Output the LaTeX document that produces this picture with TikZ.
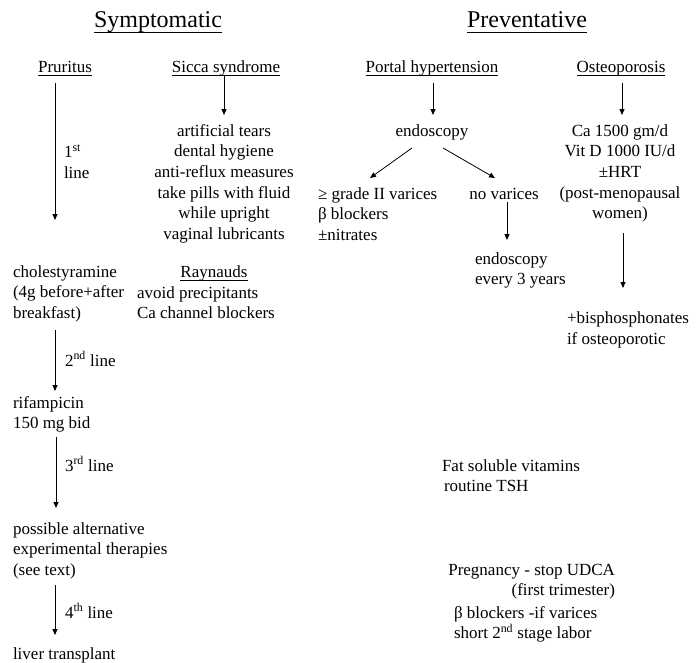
\documentclass[tikz,border=0pt]{standalone}
\usepackage{fontspec}
\setmainfont{Liberation Serif}
\usetikzlibrary{arrows.meta}
\tikzset{
  txt/.style={font=\fontsize{17}{20.7}\selectfont, inner sep=0pt, outer sep=0pt},
  head/.style={font=\fontsize{24}{28}\selectfont, inner sep=0pt, outer sep=0pt},
  arr/.style={-{Triangle[width=5pt,length=6pt]}, line width=0.8pt},
  ul/.style={line width=0.6pt},
}
\begin{document}
\begin{tikzpicture}[x=1pt,y=-1pt]
\useasboundingbox (0,0) rectangle (699,662);
% headings
\node[head, anchor=base] (symp) at (158,27) {Symptomatic};
\node[head, anchor=base] (prev) at (527,27) {Preventative};
\draw[ul] ([yshift=-5pt]symp.base west) -- ([yshift=-5pt]symp.base east);
\draw[ul] ([yshift=-5pt]prev.base west) -- ([yshift=-5pt]prev.base east);
% sub headings
\node[txt, anchor=base] (pru) at (65,72) {Pruritus};
\node[txt, anchor=base] (sic) at (226,72) {Sicca syndrome};
\node[txt, anchor=base] (por) at (432,72) {Portal hypertension};
\node[txt, anchor=base] (ost) at (621,72) {Osteoporosis};
\foreach \n in {pru,sic,por,ost}{
  \draw[ul] ([yshift=-3pt]\n.base west) -- ([yshift=-3pt]\n.base east);
}
% symptomatic column (multi-line nodes: base = last line's baseline)
\node[txt, anchor=base, align=center] (sicl) at (224,239.5) {artificial tears\\dental hygiene\\anti-reflux measures\\take pills with fluid\\while upright\\vaginal lubricants};
\node[txt, anchor=base west, align=left] (chol) at (13,318.4) {cholestyramine\\(4g before+after\\breakfast)};
\node[txt, anchor=base] (ray) at (214,277) {Raynauds};
\draw[ul] ([yshift=-3pt]ray.base west) -- ([yshift=-3pt]ray.base east);
\node[txt, anchor=base west, align=left] (rayl) at (137,318.7) {avoid precipitants\\Ca channel blockers};
\node[txt, anchor=base west, align=left] (rif) at (13,428.7) {rifampicin\\150 mg bid};
\node[txt, anchor=base west, align=left] (poss) at (13,575.4) {possible alternative\\experimental therapies\\(see text)};
\node[txt, anchor=base west] (liv) at (13,659) {liver transplant};
% line labels
\node[txt, anchor=base west, align=left] (l1) at (64,178) {1\textsuperscript{st}\\line};
\node[txt, anchor=base west] (l2) at (65,366) {2\textsuperscript{nd} line};
\node[txt, anchor=base west] (l3) at (65,471) {3\textsuperscript{rd} line};
\node[txt, anchor=base west] (l4) at (65,618) {4\textsuperscript{th} line};
% preventative column
\node[txt, anchor=base] (endo) at (432,136) {endoscopy};
\node[txt, anchor=base, align=center] (ca) at (620,218.8) {Ca 1500 gm/d\\Vit D 1000 IU/d\\±HRT\\(post-menopausal\\women)};
\node[txt, anchor=base west, align=left] (var) at (318,240.4) {≥ grade II varices\\β blockers\\±nitrates};
\node[txt, anchor=base] (nov) at (504,199) {no varices};
\node[txt, anchor=base west, align=left] (end3) at (475,284.7) {endoscopy\\every 3 years};
\node[txt, anchor=base west, align=left] (bis) at (567,344) {+bisphosphonates\\if osteoporotic};
\node[txt, anchor=base west, align=left] (fat) at (442,491.7) {Fat soluble vitamins\\\hspace{2pt}routine TSH};
\node[txt, anchor=base east, align=right] (preg) at (615,595.7) {Pregnancy - stop UDCA\\(first trimester)};
\node[txt, anchor=base west, align=left] (bb) at (454,638.7) {β blockers -if varices\\short 2\textsuperscript{nd} stage labor};
% arrows
\draw[arr] ([xshift=-10pt,yshift=-11pt]pru.base) -- ([xshift=42pt,yshift=98.4pt]chol.base west);
\draw[arr] ([xshift=-2pt,yshift=-3pt]sic.base) -- ([yshift=124.5pt]sicl.base);
\draw[arr] ([xshift=42pt,yshift=-11.6pt]chol.base west) -- ([xshift=42pt,yshift=37.7pt]rif.base west);
\draw[arr] ([xshift=43pt,yshift=-8.3pt]rif.base west) -- ([xshift=43pt,yshift=67.4pt]poss.base west);
\draw[arr] ([xshift=42pt,yshift=-9.6pt]poss.base west) -- ([xshift=42pt,yshift=24pt]liv.base west);
\draw[arr] ([xshift=1pt,yshift=-11pt]por.base) -- ([xshift=1pt,yshift=21pt]endo.base);
\draw[arr] ([xshift=1pt,yshift=-11pt]ost.base) -- ([xshift=2pt,yshift=103.8pt]ca.base);
\draw[arr] ([xshift=-20pt,yshift=-12pt]endo.base) -- ([xshift=52pt,yshift=62.4pt]var.base west);
\draw[arr] ([xshift=11pt,yshift=-12pt]endo.base) -- ([xshift=-9pt,yshift=21pt]nov.base);
\draw[arr] ([xshift=3pt,yshift=-3pt]nov.base) -- ([xshift=32pt,yshift=44.7pt]end3.base west);
\draw[arr] ([xshift=3pt,yshift=-14.2pt]ca.base) -- ([xshift=56pt,yshift=56pt]bis.base west);
\end{tikzpicture}
\end{document}
